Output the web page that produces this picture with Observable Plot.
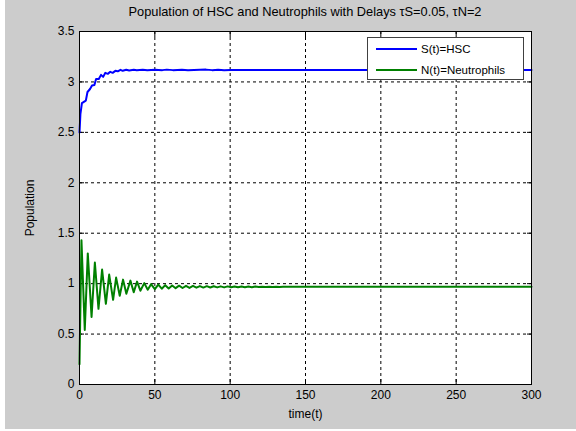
<!DOCTYPE html>
<html>
<head>
<meta charset="utf-8">
<script src="https://cdn.jsdelivr.net/npm/d3@7"></script>
<script src="https://cdn.jsdelivr.net/npm/@observablehq/plot@0.6"></script>
<style>
  body { margin: 0; background: #fff; font-family: "Liberation Sans", Arial, sans-serif; }
  #wrap { position: relative; width: 576px; height: 431px; background: #fff; overflow: hidden; }
  #bg { position: absolute; left: 5px; top: 0; width: 571px; height: 429px; background: #cccccc; }
  #title { position: absolute; left: 79px; width: 452px; top: 4px; text-align: center; font-size: 12.8px; color: #000; white-space: nowrap; }
  #chart { position: absolute; left: 0; top: 24px; }
  #legend { position: absolute; left: 367px; top: 37px; width: 157px; height: 43px; background: #fff; border: 1px solid #404040; box-sizing: border-box; font-size: 11.5px; }
  .row { position: absolute; left: 8px; height: 14px; display: flex; align-items: center; }
  .row svg { margin-right: 4px; }
</style>
</head>
<body>
<div id="wrap">
  <div id="bg"></div>
  <div id="title">Population of HSC and Neutrophils with Delays τS=0.05, τN=2</div>
  <div id="chart"></div>
  <div id="legend"></div>
</div>
<script>
// Series labels
const seriesNames = ["S(t)=HSC", "N(t)=Neutrophils"];
const seriesColors = ["#0000ff", "#008000"];

// Tick values
const xTicks = [0, 50, 100, 150, 200, 250, 300];
const yTicks = [0, 0.5, 1, 1.5, 2, 2.5, 3, 3.5];

// S(t) = HSC
const sTime = [0, 0.6, 1.6, 4.2, 5.3, 7.0, 8.3, 9.9, 11.0, 12.8, 14.3, 15.7, 17.1, 18.8, 20.4, 22.0, 23.8, 25.4, 27.2, 28.7, 31, 33, 36, 38, 42, 45, 50, 55, 58, 62, 68, 72, 84, 88, 92, 96, 100, 300];
const sValue = [2.5, 2.68, 2.79, 2.815, 2.90, 2.93, 2.965, 2.97, 3.03, 3.03, 3.07, 3.05, 3.09, 3.08, 3.10, 3.09, 3.11, 3.105, 3.12, 3.11, 3.12, 3.113, 3.12, 3.115, 3.12, 3.116, 3.12, 3.117, 3.122, 3.117, 3.121, 3.117, 3.122, 3.117, 3.121, 3.117, 3.118, 3.118];

// N(t) = Neutrophils
const nTime = [0, 1.3, 3.5, 5.5, 8.0, 10.2, 12.6, 15.0, 17.5, 19.7, 22.3, 24.3, 26.7, 28.9, 31.1, 33.8, 36.0, 38.2, 40.4, 43.0, 45.3, 47.5, 50.0, 52.3, 54.6, 56.9, 59.2, 61.5, 63.8, 66.1, 68.4, 70.7, 73.0, 75.3, 77.6, 79.9, 82.2, 84.5, 86.8, 89.1, 91.4, 93.7, 96.0, 98.3, 100.6, 102.9, 105.2, 107.5, 109.8, 112.1, 114.4, 116.7, 119.0, 121.3, 123.6, 125.9, 128.2, 130.5, 132.8, 135.1, 140, 300];
const nValue = [0.2, 1.43, 0.54, 1.30, 0.67, 1.21, 0.75, 1.14, 0.80, 1.09, 0.84, 1.06, 0.88, 1.04, 0.90, 1.03, 0.915, 1.02, 0.93, 1.005, 0.94, 0.995, 0.945, 0.99, 0.95, 0.985, 0.952, 0.982, 0.955, 0.98, 0.957, 0.978, 0.958, 0.977, 0.96, 0.976, 0.961, 0.975, 0.962, 0.974, 0.963, 0.973, 0.963, 0.973, 0.964, 0.972, 0.964, 0.972, 0.965, 0.971, 0.965, 0.971, 0.966, 0.970, 0.966, 0.970, 0.967, 0.970, 0.967, 0.969, 0.968, 0.968];

const S = sTime.map((t, i) => ({t, v: sValue[i]}));
const N = nTime.map((t, i) => ({t, v: nValue[i]}));

const fmt = d => String(d);

const chart = Plot.plot({
  width: 576,
  height: 407,
  marginTop: 7,
  marginBottom: 47,
  marginLeft: 79,
  marginRight: 45,
  style: {background: "transparent", fontFamily: "'Liberation Sans', Arial, sans-serif", fontSize: "12px", color: "#000"},
  x: {domain: [0, 300]},
  y: {domain: [0, 3.5]},
  marks: [
    Plot.frame({fill: "white", stroke: null}),
    Plot.gridX(xTicks, {stroke: "black", strokeOpacity: 1, strokeDasharray: "3,3"}),
    Plot.gridY(yTicks, {stroke: "black", strokeOpacity: 1, strokeDasharray: "3,3"}),
    Plot.axisX(xTicks, {anchor: "bottom", tickSize: -5, tickPadding: 11, tickFormat: fmt, fill: "#000", stroke: "#000",
      label: "time(t)", labelAnchor: "center", labelArrow: "none", labelOffset: 33}),
    Plot.axisX(xTicks, {anchor: "top", tickSize: -5, tickFormat: () => "", label: null, stroke: "#000"}),
    Plot.axisY(yTicks, {anchor: "left", tickSize: -5, tickPadding: 10, tickFormat: fmt, fill: "#000", stroke: "#000",
      label: "Population", labelAnchor: "center", labelArrow: "none", labelOffset: 54}),
    Plot.axisY(yTicks, {anchor: "right", tickSize: -5, tickFormat: () => "", label: null, stroke: "#000"}),
    Plot.line(N, {x: "t", y: "v", stroke: seriesColors[1], strokeWidth: 2}),
    Plot.line(S, {x: "t", y: "v", stroke: seriesColors[0], strokeWidth: 2}),
    Plot.frame({stroke: "black", strokeWidth: 1})
  ]
});
document.getElementById("chart").appendChild(chart);

// Legend
const legend = document.getElementById("legend");
seriesNames.forEach((name, i) => {
  const row = document.createElement("div");
  row.className = "row";
  row.style.top = (i === 0 ? 4 : 25) + "px";
  row.innerHTML = `<svg width="41" height="4"><line x1="0" x2="41" y1="2" y2="2" stroke="${seriesColors[i]}" stroke-width="2"/></svg><span>${name}</span>`;
  legend.appendChild(row);
});
</script>
</body>
</html>
